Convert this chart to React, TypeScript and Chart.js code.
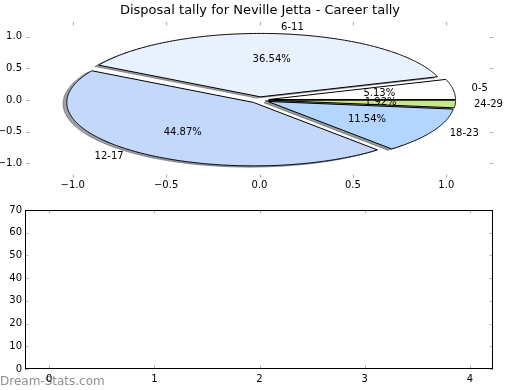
import React, { useEffect, useRef } from "react";
import { Chart, registerables } from "chart.js";

Chart.register(...registerables);

// ---------------- data ----------------
const TITLE = "Disposal tally for Neville Jetta - Career tally";
const categories = ["0-5", "6-11", "12-17", "18-23", "24-29"];
const percentages = [5.13, 36.54, 44.87, 11.54, 1.92];
const sliceColors = ["#ffffff", "#e9f1fe", "#c4d8fc", "#b3d5fe", "#c8e68c"];
const pieXTicks = [-1, -0.5, 0, 0.5, 1];
const pieYTicks = [-1, -0.5, 0, 0.5, 1];
const barXTicks = [0, 1, 2, 3, 4];
const barYTicks = [0, 10, 20, 30, 40, 50, 60, 70];
const barValues: { x: number; y: number }[] = [];
const WATERMARK = "Dream-Stats.com";

const EXPLODE = 0.05;
const LABEL_DIST = 1.1;
const PCT_DIST = 0.6;
const SHADOW_OFF = -0.02;
const FAMILY = "'DejaVu Sans', sans-serif";

const fmt1 = (v: number) => {
  const s = Math.abs(v).toFixed(1);
  return v < -1e-9 ? "\u2212" + s : s;
};

function hexToRgb(h: string) {
  const n = parseInt(h.slice(1), 16);
  return [(n >> 16) & 255, (n >> 8) & 255, n & 255];
}

const innerTicksPlugin = {
  id: "innerTicks",
  afterDraw(chart: any) {
    const { ctx, chartArea } = chart;
    const { left, right, top, bottom } = chartArea;
    const xs = chart.scales.x;
    const ys = chart.scales.y;
    const L = 3.5;
    ctx.save();
    ctx.strokeStyle = "#b4b4b4";
    ctx.lineWidth = 1.2;
    ctx.beginPath();
    xs.ticks.forEach((t: any) => {
      const p = Math.round(xs.getPixelForValue(t.value)) + 0.5;
      ctx.moveTo(p, top);
      ctx.lineTo(p, top + L);
      ctx.moveTo(p, bottom);
      ctx.lineTo(p, bottom - L);
    });
    ys.ticks.forEach((t: any) => {
      const p = Math.round(ys.getPixelForValue(t.value)) + 0.5;
      ctx.moveTo(left, p);
      ctx.lineTo(left + L, p);
      ctx.moveTo(right, p);
      ctx.lineTo(right - L, p);
    });
    ctx.stroke();
    ctx.restore();
  },
};

const framePlugin = {
  id: "frame",
  afterDraw(chart: any) {
    const { ctx, chartArea } = chart;
    ctx.save();
    ctx.strokeStyle = "#000";
    ctx.lineWidth = 1;
    ctx.strokeRect(
      Math.round(chartArea.left) + 0.5,
      Math.round(chartArea.top) + 0.5,
      Math.round(chartArea.right - chartArea.left) - 1,
      Math.round(chartArea.bottom - chartArea.top) - 1
    );
    ctx.restore();
  },
};

const watermarkPlugin = {
  id: "watermark",
  beforeDraw(chart: any) {
    const ctx = chart.ctx;
    ctx.save();
    ctx.font = `12px ${FAMILY}`;
    ctx.fillStyle = "#8f8f8f";
    ctx.textAlign = "left";
    ctx.textBaseline = "middle";
    ctx.fillText(WATERMARK, 0, chart.height - 8);
    ctx.restore();
  },
};

const piePlugin = {
  id: "ellipsePie",
  afterDatasetsDraw(chart: any) {
    const ctx = chart.ctx;
    const xs = chart.scales.x;
    const ys = chart.scales.y;
    const total = percentages.reduce((a, b) => a + b, 0);
    const wedges: any[] = [];
    let start = 0;
    percentages.forEach((v, i) => {
      const sweep = (v / total) * Math.PI * 2;
      const mid = start + sweep / 2;
      wedges.push({
        a1: start,
        a2: start + sweep,
        mid,
        cx: EXPLODE * Math.cos(mid),
        cy: EXPLODE * Math.sin(mid),
        color: sliceColors[i],
        label: categories[i],
        pct: v,
      });
      start += sweep;
    });
    const px = (v: number) => xs.getPixelForValue(v);
    const py = (v: number) => ys.getPixelForValue(v);
    const path = (w: any, ox: number, oy: number) => {
      ctx.beginPath();
      ctx.moveTo(px(w.cx + ox), py(w.cy + oy));
      const n = Math.max(4, Math.ceil((w.a2 - w.a1) / (Math.PI / 360)));
      for (let k = 0; k <= n; k++) {
        const a = w.a1 + ((w.a2 - w.a1) * k) / n;
        ctx.lineTo(px(w.cx + ox + Math.cos(a)), py(w.cy + oy + Math.sin(a)));
      }
      ctx.closePath();
    };
    ctx.save();
    // shadows
    wedges.forEach((w) => {
      const [r, g, b] = hexToRgb(w.color);
      const c = `rgba(${Math.round(r * 0.3)},${Math.round(g * 0.3)},${Math.round(b * 0.3)},0.5)`;
      path(w, SHADOW_OFF, SHADOW_OFF);
      ctx.fillStyle = c;
      ctx.fill();
      ctx.strokeStyle = c;
      ctx.lineWidth = 1;
      ctx.stroke();
    });
    // wedges
    wedges.forEach((w) => {
      path(w, 0, 0);
      ctx.fillStyle = w.color;
      ctx.fill();
      ctx.strokeStyle = "#000";
      ctx.lineWidth = 1;
      ctx.lineJoin = "miter";
      ctx.stroke();
    });
    // texts
    ctx.font = `10px ${FAMILY}`;
    ctx.fillStyle = "#000";
    ctx.textBaseline = "middle";
    wedges.forEach((w) => {
      const lx = w.cx + LABEL_DIST * Math.cos(w.mid);
      const ly = w.cy + LABEL_DIST * Math.sin(w.mid);
      ctx.textAlign = lx > 0 ? "left" : "right";
      ctx.fillText(w.label, px(lx), py(ly));
      const tx = w.cx + PCT_DIST * Math.cos(w.mid);
      const ty = w.cy + PCT_DIST * Math.sin(w.mid);
      ctx.textAlign = "center";
      ctx.fillText(w.pct.toFixed(2) + "%", px(tx), py(ty));
    });
    ctx.restore();
  },
};

export default function App() {
  const pieRef = useRef<HTMLCanvasElement | null>(null);
  const barRef = useRef<HTMLCanvasElement | null>(null);

  useEffect(() => {
    const tickFont = { family: FAMILY, size: 10 };
    const spacer = (w: number) => ({
      type: "linear",
      position: "right",
      display: true,
      grid: { display: false, drawTicks: false },
      border: { display: false },
      ticks: { display: false },
      afterFit: (s: any) => {
        s.width = w;
      },
    });
    const pie = new Chart(pieRef.current as HTMLCanvasElement, {
      type: "scatter",
      data: { datasets: [{ data: [], pointRadius: 0 }] },
      options: {
        responsive: false,
        animation: false,
        events: [],
        layout: { padding: 0 },
        plugins: {
          legend: { display: false },
          tooltip: { enabled: false },
          title: {
            display: true,
            text: TITLE,
            color: "#000",
            font: { family: FAMILY, size: 13, weight: "normal" },
            padding: { top: 3, bottom: 3.4 },
          },
        },
        scales: {
          x: {
            type: "linear",
            min: -1.25,
            max: 1.25,
            grid: { display: false, drawTicks: false },
            border: { display: false },
            afterBuildTicks: (s: any) => {
              s.ticks = pieXTicks.map((v) => ({ value: v }));
            },
            afterFit: (s: any) => {
              s.height = 17;
            },
            ticks: {
              color: "#000",
              font: tickFont,
              padding: 1,
              maxRotation: 0,
              autoSkip: false,
              callback: (v: any) => fmt1(Number(v)),
            },
          },
          y: {
            type: "linear",
            min: -1.23,
            max: 1.23,
            grid: { display: false, drawTicks: false },
            border: { display: false },
            afterBuildTicks: (s: any) => {
              s.ticks = pieYTicks.map((v) => ({ value: v }));
            },
            afterFit: (s: any) => {
              s.width = 26;
            },
            ticks: {
              color: "#000",
              font: tickFont,
              padding: 4,
              autoSkip: false,
              callback: (v: any) => fmt1(Number(v)),
            },
          },
          yRight: spacer(27),
        },
      },
      plugins: [piePlugin, innerTicksPlugin],
    } as any);

    const bar = new Chart(barRef.current as HTMLCanvasElement, {
      type: "scatter",
      data: { datasets: [{ data: barValues, pointRadius: 0 }] },
      options: {
        responsive: false,
        animation: false,
        events: [],
        layout: { padding: { top: 15, right: 0, left: 0, bottom: 0 } },
        plugins: {
          legend: { display: false },
          tooltip: { enabled: false },
          title: { display: false },
        },
        scales: {
          x: {
            type: "linear",
            min: -0.23,
            max: 4.22,
            grid: { display: false, drawTicks: false },
            border: { display: false },
            afterBuildTicks: (s: any) => {
              s.ticks = barXTicks.map((v) => ({ value: v }));
            },
            afterFit: (s: any) => {
              s.height = 21;
            },
            ticks: {
              color: "#000",
              font: tickFont,
              padding: 4,
              maxRotation: 0,
              autoSkip: false,
              callback: (v: any) => String(v),
            },
          },
          y: {
            type: "linear",
            min: 0,
            max: 70,
            grid: { display: false, drawTicks: false },
            border: { display: false },
            afterBuildTicks: (s: any) => {
              s.ticks = barYTicks.map((v) => ({ value: v }));
            },
            afterFit: (s: any) => {
              s.width = 25;
            },
            ticks: {
              color: "#000",
              font: tickFont,
              padding: 3,
              autoSkip: false,
              callback: (v: any) => String(v),
            },
          },
          yRight: spacer(27),
        },
      },
      plugins: [watermarkPlugin, innerTicksPlugin, framePlugin],
    } as any);

    return () => {
      pie.destroy();
      bar.destroy();
    };
  }, []);

  return (
    <div
      style={{
        position: "absolute",
        left: 0,
        top: 0,
        width: 520,
        height: 390,
        background: "#fff",
      }}
    >
      <canvas
        ref={pieRef}
        width={520}
        height={195}
        style={{ position: "absolute", left: 0, top: 0, display: "block" }}
      />
      <canvas
        ref={barRef}
        width={520}
        height={195}
        style={{ position: "absolute", left: 0, top: 195, display: "block" }}
      />
    </div>
  );
}
